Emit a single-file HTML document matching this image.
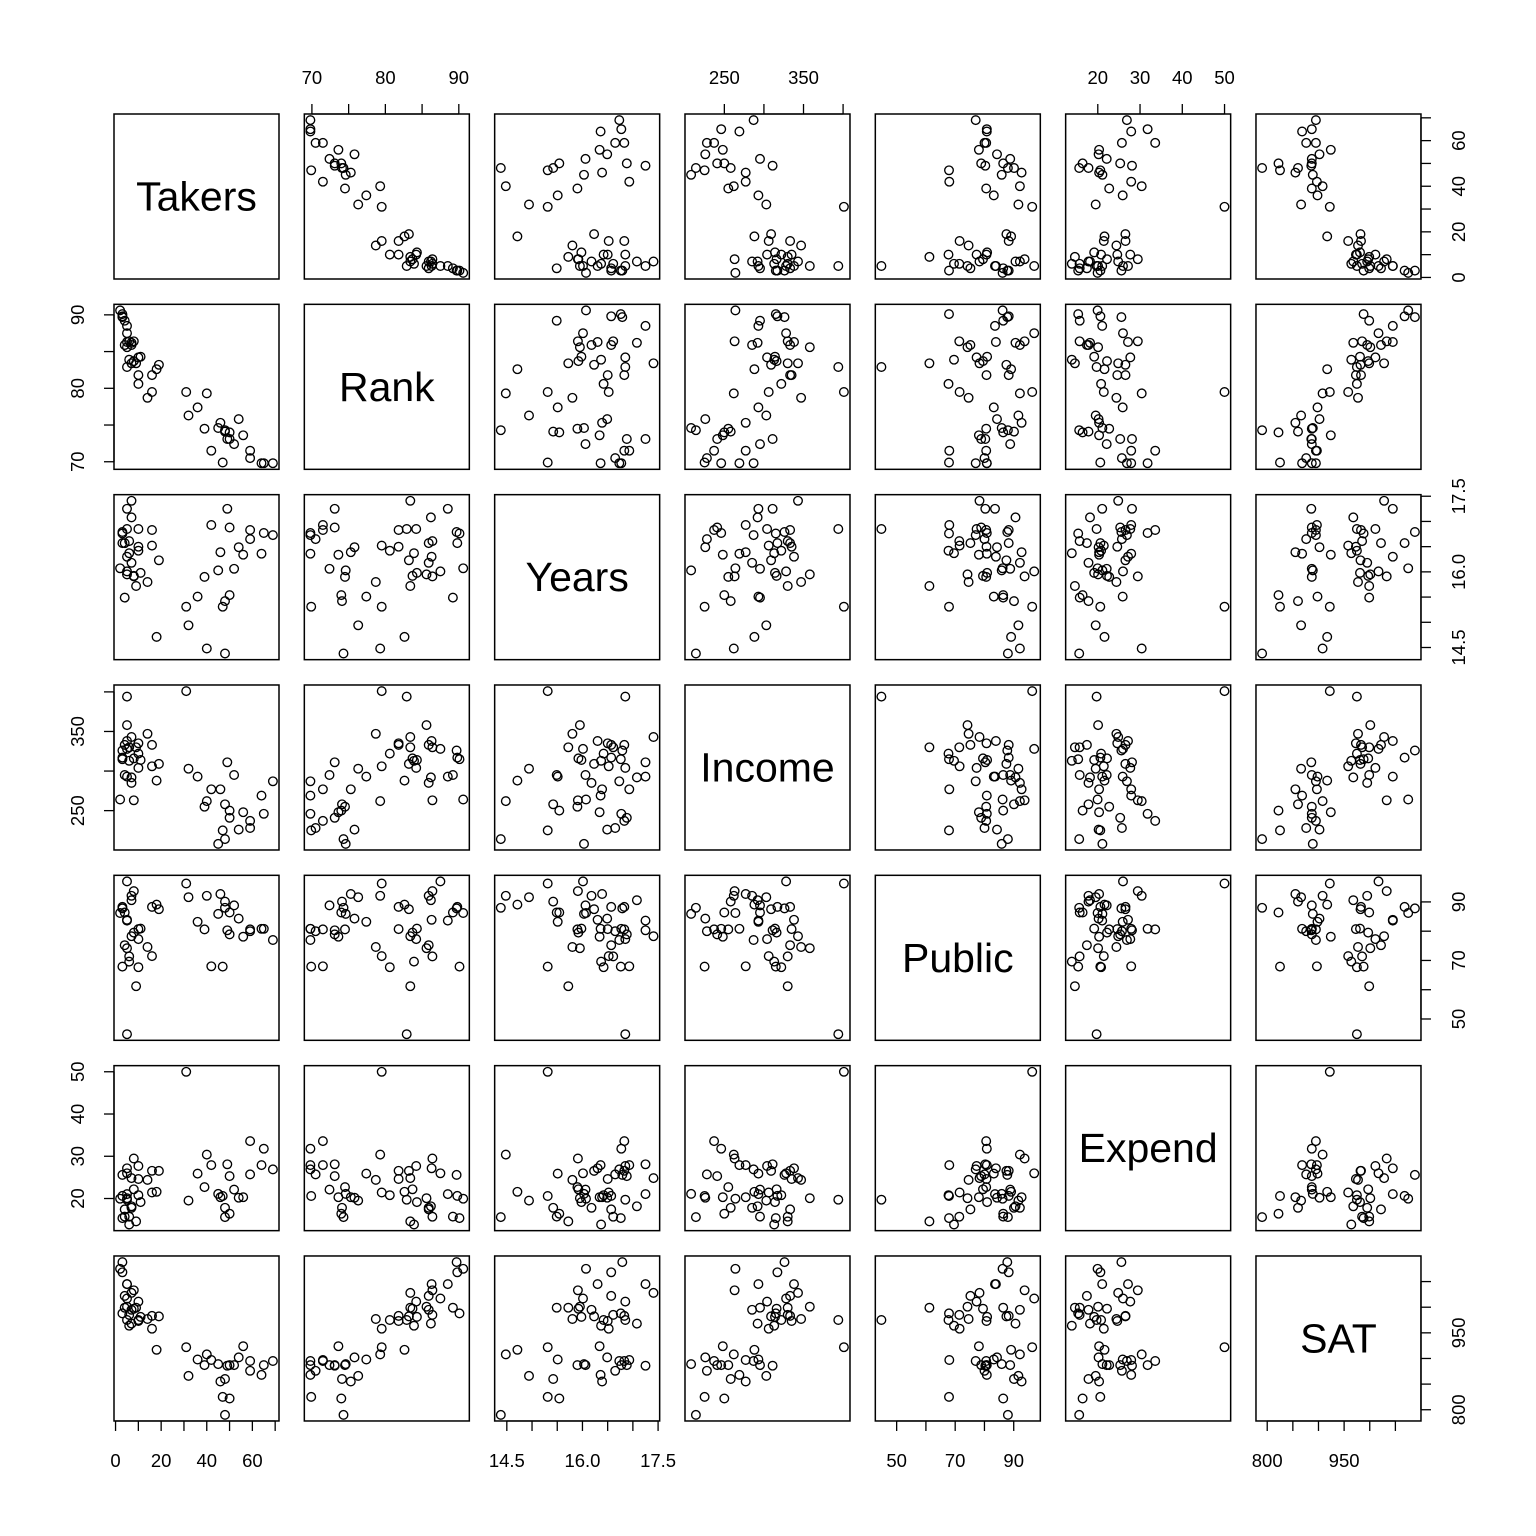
<!DOCTYPE html>
<html><head><meta charset="utf-8"><title>SAT scatterplot matrix</title>
<style>html,body{margin:0;padding:0;background:#fff;}svg{display:block;}</style></head>
<body>
<svg id="chart" width="1536" height="1536" viewBox="0 0 1536 1536" xmlns="http://www.w3.org/2000/svg" font-family="'Liberation Sans', Arial, sans-serif"></svg>
<script>
const varNames = ["Takers","Rank","Years","Income","Public","Expend","SAT"];
const takers = [3,2,3,5,5,8,7,4,5,10,5,4,9,8,7,3,6,16,19,11,14,5,10,10,7,6,16,18,
  31,32,36,39,40,42,45,46,47,48,48,49,50,50,52,54,56,59,59,64,65,69];
const rank = [89.7,90.6,89.8,86.3,88.5,86.4,83.4,85.9,87.5,84.2,85.6,89.2,83.4,83.7,85.9,90.1,86.4,81.8,83.2,84.3,78.7,82.9,80.6,81.8,86.2,83.9,79.5,82.6,
  79.5,76.3,77.4,74.5,79.3,71.5,74.6,75.3,69.9,74.1,74.3,73.1,73.1,74.0,72.4,75.8,73.6,71.5,70.5,69.8,69.8,69.8];
const years = [16.79,16.07,16.57,16.30,17.25,15.91,17.41,16.57,16.01,16.85,15.95,15.49,15.72,15.92,16.18,16.76,16.61,16.83,16.23,15.98,15.80,16.85,16.42,16.50,17.08,16.37,16.52,14.71,
  15.31,14.94,15.51,15.90,14.48,16.93,16.03,16.39,15.31,15.42,14.38,17.25,16.88,15.54,16.06,16.49,16.34,16.83,16.65,16.36,16.77,16.73];
const income = [326,264,317,338,293,263,343,333,328,304,358,295,330,316,285,315,330,333,309,314,347,394,322,335,292,313,306,288,
  401,303,293,255,262,277,208,277,225,258,214,311,241,250,295,226,248,237,228,269,246,287];
const publicPct = [87.8,86.2,88.3,83.9,83.6,93.7,78.3,75.2,97.0,77.3,74.2,86.4,61.2,79.5,92.1,67.9,71.4,88.3,87.5,80.9,74.6,44.8,67.7,80.7,90.6,69.6,71.5,89.1,
  96.3,91.6,83.2,80.6,92.1,68.0,85.9,92.7,67.9,90.1,88.0,80.3,78.9,86.4,88.8,84.3,78.1,80.6,80.0,80.8,80.8,77.0];
const expend = [25.60,19.95,20.62,27.14,21.05,29.48,24.84,17.42,25.96,27.69,20.07,15.71,14.58,22.19,17.80,15.36,15.69,26.56,26.53,19.14,24.41,19.72,20.79,24.61,18.16,13.84,21.43,21.60,
  50.0,19.5,25.9,22.7,30.4,27.9,21.1,20.3,20.6,17.8,15.6,28.1,25.3,16.4,22.1,20.2,20.3,33.6,25.7,27.9,31.8,26.9];
const sat = [1088,1075,1068,1045,1045,1033,1028,1022,1017,1011,1001,999,999,997,995,988,985,983,982,981,977,975,975,973,968,964,958,917,
  922,866,898,887,908,897,889,855,825,860,790,886,887,822,887,902,924,895,876,868,887,895];
const tickValues = [[0,10,20,30,40,50,60,70],[70,75,80,85,90],[14.5,15,15.5,16,16.5,17,17.5],[250,300,350,400],[50,60,70,80,90],[20,30,40,50],[800,850,900,950,1000,1050]];
const tickLabels = [["0","20","40","60"],["70","80","90"],["14.5","16.0","17.5"],["250","350"],["50","70","90"],["20","30","40","50"],["800","950"]];
const labelAt = [[0,20,40,60],[70,80,90],[14.5,16,17.5],[250,350],[50,70,90],[20,30,40,50],[800,950]];

const series = [takers,rank,years,income,publicPct,expend,sat];
const NS="http://www.w3.org/2000/svg";
const svg=document.getElementById('chart');
const P0=114, STEP=190.33, W=165;
function mk(tag,attrs,parent){const e=document.createElementNS(NS,tag);for(const k in attrs)e.setAttribute(k,attrs[k]);(parent||svg).appendChild(e);return e;}
const ranges=series.map(s=>{const lo=Math.min(...s),hi=Math.max(...s),d=(hi-lo)*0.04;return [lo-d,hi+d];});
function sx(v,j){const r=ranges[j];return P0+j*STEP+(v-r[0])/(r[1]-r[0])*W;}
function sy(v,i){const r=ranges[i];return P0+i*STEP+W-(v-r[0])/(r[1]-r[0])*W;}

for(let i=0;i<7;i++){for(let j=0;j<7;j++){
  const g=mk('g',{});
  
  
  const x0=P0+j*STEP,y0=P0+i*STEP;
  if(i===j){
    const t=mk('text',{x:x0+W/2,y:y0+W/2+14,'text-anchor':'middle','font-size':'41'},g);
    t.textContent=varNames[i];
    
    
  } else {
    for(let k=0;k<takers.length;k++){
      const c=mk('circle',{cx:sx(series[j][k],j).toFixed(1),cy:sy(series[i][k],i).toFixed(1),r:4.3,fill:'none',stroke:'#000','stroke-width':1.35},g);
      
      
    }
  }
  const b=mk('rect',{x:x0,y:y0,width:W,height:W,fill:'none',stroke:'#000','stroke-width':1.5},g);
  
  
}}

for(let j=0;j<7;j++){
  const g=mk('g',{});
  
  
  const top=(j%2===1);
  const edge=top?P0:P0+6*STEP+W;
  const dir=top?-1:1;
  const tv=tickValues[j].filter(v=>v>=ranges[j][0]&&v<=ranges[j][1]);
  const xs=tv.map(v=>sx(v,j));
  mk('line',{x1:xs[0],x2:xs[xs.length-1],y1:edge,y2:edge,stroke:'#000','stroke-width':1.3},g);
  tv.forEach(v=>{const x=sx(v,j);mk('line',{x1:x,x2:x,y1:edge,y2:edge+dir*10,stroke:'#000','stroke-width':1.3},g);});
  labelAt[j].forEach((v,n)=>{const t=mk('text',{x:sx(v,j),y:top?edge-30:edge+46,'text-anchor':'middle','font-size':'18.5'},g);t.textContent=tickLabels[j][n];});
}
for(let i=0;i<7;i++){
  const g=mk('g',{});
  
  
  const left=(i%2===1);
  const edge=left?P0:P0+6*STEP+W;
  const dir=left?-1:1;
  const tv=tickValues[i].filter(v=>v>=ranges[i][0]&&v<=ranges[i][1]);
  const ys=tv.map(v=>sy(v,i));
  mk('line',{x1:edge,x2:edge,y1:ys[0],y2:ys[ys.length-1],stroke:'#000','stroke-width':1.3},g);
  tv.forEach(v=>{const y=sy(v,i);mk('line',{x1:edge,x2:edge+dir*10,y1:y,y2:y,stroke:'#000','stroke-width':1.3},g);});
  labelAt[i].forEach((v,n)=>{const y=sy(v,i);const x=left?edge-37:edge+37;
    const t=mk('text',{x:x,y:y,'text-anchor':'middle','font-size':'18.5',transform:`rotate(-90 ${x} ${y})`,dy:'7'},g);t.textContent=tickLabels[i][n];});
}
</script>
</body></html>
